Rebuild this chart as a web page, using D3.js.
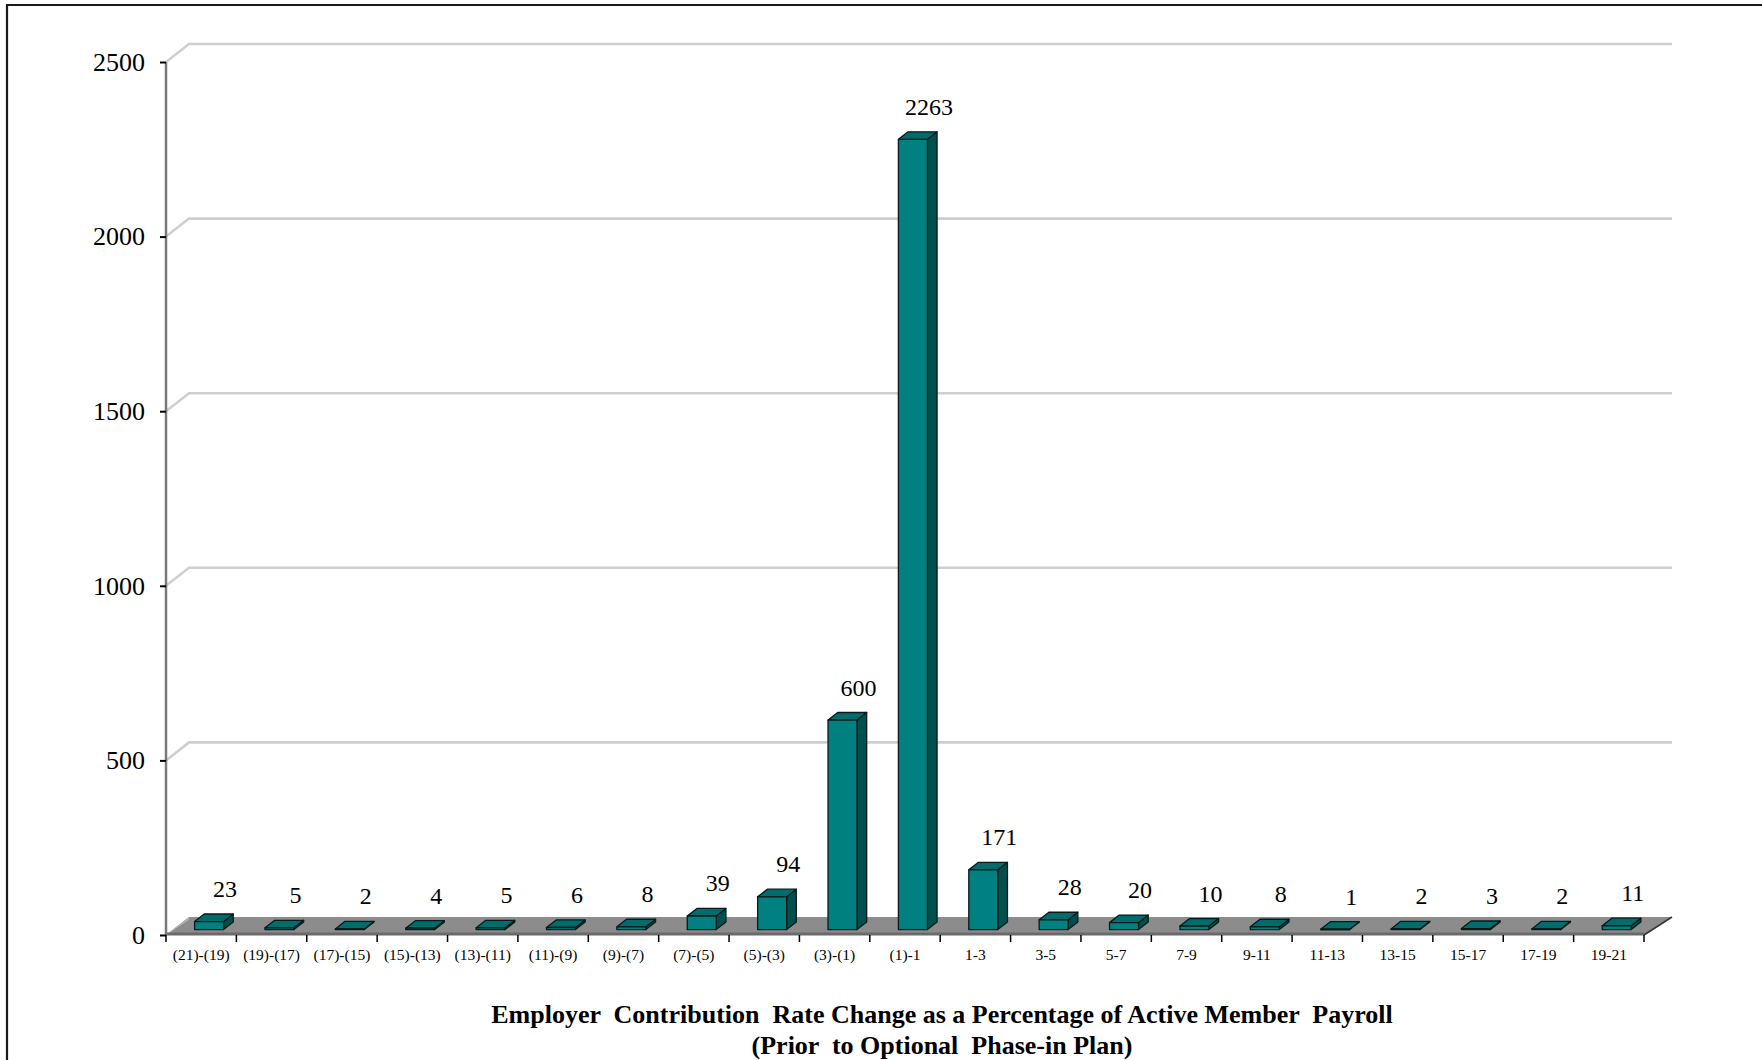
<!DOCTYPE html>
<html><head><meta charset="utf-8">
<script src="https://cdn.jsdelivr.net/npm/d3@7/dist/d3.min.js"></script>
<style>
html,body{margin:0;padding:0;background:#fff;}
svg{display:block;}
text{font-family:"Liberation Serif","Times New Roman",serif;}
</style></head>
<body>
<script>
const categories = ["(21)-(19)","(19)-(17)","(17)-(15)","(15)-(13)","(13)-(11)","(11)-(9)","(9)-(7)","(7)-(5)","(5)-(3)","(3)-(1)","(1)-1","1-3","3-5","5-7","7-9","9-11","11-13","13-15","15-17","17-19","19-21"];
const counts = [23,5,2,4,5,6,8,39,94,600,2263,171,28,20,10,8,1,2,3,2,11];
const yTicks = [0,500,1000,1500,2000,2500];
const titleLines = ["Employer  Contribution  Rate Change as a Percentage of Active Member  Payroll","(Prior  to Optional  Phase-in Plan)"];

const W = 1762, H = 1060;
const svg = d3.select("body").append("svg").attr("width", W).attr("height", H);

// frame
svg.append("path").attr("d", `M7,${H} L7,5 L${W},5`).attr("fill","none").attr("stroke","#1a1a1a").attr("stroke-width",2.2);

const x0 = 166, x1 = 1644, yBase = 935, yTop = 62;
const DX = 23, DY = -18; // depth offset of back wall
const y = d3.scaleLinear().domain([0,2500]).range([yBase, yTop]);
const x = d3.scaleBand().domain(categories).range([x0, x1]).padding(0);

// gridlines (back wall) with diagonal to axis
const grid = svg.append("g");
yTicks.filter(t => t > 0).forEach(t => {
  const yy = y(t);
  grid.append("path")
    .attr("d", `M${x0},${yy} L${x0+DX},${yy+DY} L${x1+DX+5},${yy+DY}`)
    .attr("fill","none").attr("stroke","#cfcfcf").attr("stroke-width",2.6);
});

// floor
const floor = svg.append("g");
floor.append("path")
  .attr("d", `M${x0},${yBase} L${x0+DX},${yBase+DY} L${x1+DX+5},${yBase+DY} L${x1},${yBase} Z`)
  .attr("fill","#8c8c8c");
floor.append("path")
  .attr("d", `M${x0},${yBase} L${x0+DX},${yBase+DY} L${x0+DX},${yBase+DY+3} L${x0},${yBase} Z`)
  .attr("fill","#b0b0b0");
floor.append("line").attr("x1",x0).attr("x2",x1).attr("y1",yBase-1).attr("y2",yBase-1)
  .attr("stroke","#6a6a6a").attr("stroke-width",3);
floor.append("line").attr("x1",x1).attr("y1",yBase).attr("x2",x1+DX+5).attr("y2",yBase+DY)
  .attr("stroke","#333").attr("stroke-width",1.5);

// y axis
const yAxis = d3.axisLeft(y).tickValues(yTicks).tickSize(6).tickPadding(15).tickFormat(d3.format("d"));
const ya = svg.append("g").attr("transform", `translate(${x0},0)`).call(yAxis);
ya.select(".domain").attr("stroke","#7a7a7a").attr("stroke-width",2.5).attr("d", `M0,${yTop}V${yBase}`);
ya.selectAll(".tick line").attr("stroke","#000").attr("stroke-width",2);
ya.selectAll(".tick text").attr("font-family","Liberation Serif").attr("font-size",26).attr("fill","#000");

// x axis
const xAxis = d3.axisBottom(x).tickSize(0).tickPadding(14);
const xa = svg.append("g").attr("transform", `translate(0,${yBase})`).call(xAxis);
xa.select(".domain").remove();
xa.selectAll(".tick text").attr("font-family","Liberation Serif").attr("font-size",15.5).attr("fill","#000");
// boundary ticks
xa.selectAll(".bound").data(d3.range(categories.length + 1)).enter().append("line")
  .attr("x1", i => x0 + i * x.step()).attr("x2", i => x0 + i * x.step())
  .attr("y1", 0).attr("y2", 7).attr("stroke","#000").attr("stroke-width",1.5);

// bars
const f0 = 0.3, f1 = 0.72;
const bw = 29;
const ddx = (f1 - f0) * DX, ddy = (f1 - f0) * DY;
const bars = svg.append("g");
categories.forEach((c, i) => {
  const v = counts[i];
  const bx = x(c) + x.bandwidth() / 2 - bw / 2 + f0 * DX + 1;
  const by0 = y(0) + f0 * DY;
  const by1 = y(v) + f0 * DY;
  const g = bars.append("g").attr("stroke","#0a1a1a").attr("stroke-width",1.3).attr("stroke-linejoin","round");
  g.append("path").attr("fill","#004f4f")
    .attr("d", `M${bx+bw},${by1} L${bx+bw+ddx},${by1+ddy} L${bx+bw+ddx},${by0+ddy} L${bx+bw},${by0} Z`);
  g.append("path").attr("fill","#006c6c")
    .attr("d", `M${bx},${by1} L${bx+ddx},${by1+ddy} L${bx+bw+ddx},${by1+ddy} L${bx+bw},${by1} Z`);
  g.append("rect").attr("x",bx).attr("y",by1).attr("width",bw).attr("height",Math.max(0.5, by0-by1)).attr("fill","#008080");
  svg.append("text").attr("x", bx + bw/2 + 16).attr("y", by1 + ddy - 17)
    .attr("text-anchor","middle").attr("font-size",24).attr("fill","#000").text(v);
});

// title
const tt = svg.append("text").attr("text-anchor","middle").attr("font-weight","bold")
  .attr("font-size",26).attr("fill","#000").style("white-space","pre");
titleLines.forEach((l, i) => {
  tt.append("tspan").attr("x", 942).attr("y", 1023 + i * 31).text(l);
});
</script>
</body></html>
